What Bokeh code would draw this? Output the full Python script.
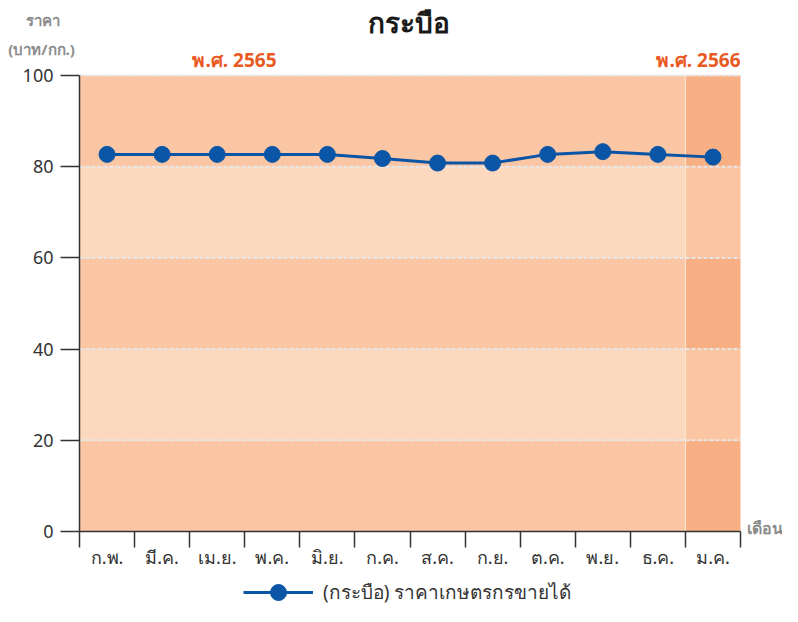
from bokeh.plotting import figure
from bokeh.models import Range1d, FixedTicker, Label, Legend, LegendItem
from bokeh.embed import file_html
from bokeh.resources import INLINE

# ---- data ----
months = ["ก.พ.", "มี.ค.", "เม.ย.", "พ.ค.", "มิ.ย.", "ก.ค.", "ส.ค.", "ก.ย.", "ต.ค.", "พ.ย.", "ธ.ค.", "ม.ค."]
prices = [82.7, 82.7, 82.7, 82.7, 82.7, 81.8, 80.8, 80.8, 82.7, 83.3, 82.7, 82.1]
y_ticks = [0, 20, 40, 60, 80, 100]
year_labels = ["พ.ศ. 2565", "พ.ศ. 2566"]
year_month_counts = [11, 1]
series_name = "(กระบือ) ราคาเกษตรกรขายได้"
chart_title = "กระบือ"
y_title = ["ราคา", "(บาท/กก.)"]
x_title = "เดือน"

FONT = "Noto Sans"
W, H = 782, 606
# plot-area placement on the canvas (pixels)
FL, FR, FT, FB = 79, 740, 75, 531
n = len(months)
ux = (FR - FL) / n
uy = (FB - FT) / (y_ticks[-1] - y_ticks[0])
xs = [i + 0.5 for i in range(n)]

p = figure(width=W, height=H, output_backend="svg", toolbar_location=None, title=None,
           x_range=Range1d(-FL / ux, n + (W - FR) / ux),
           y_range=Range1d(y_ticks[0] - (H - FB) / uy, y_ticks[-1] + FT / uy),
           min_border=0)
p.outline_line_color = None
p.xgrid.visible = False
p.ygrid.visible = False
p.background_fill_color = "white"
p.border_fill_color = "white"

# background bands
band_cols = [("#FAC6A3", "#FCD9BE"), ("#F9AF84", "#FAC5A0")]
start = 0
for yi, cnt in enumerate(year_month_counts):
    dark, light = band_cols[yi]
    for j in range(len(y_ticks) - 1):
        p.quad(left=start, right=start + cnt, bottom=y_ticks[j], top=y_ticks[j + 1],
               fill_color=dark if j % 2 == 0 else light, line_color=None)
    start += cnt
# separator between years
p.segment(x0=[year_month_counts[0]], x1=[year_month_counts[0]], y0=[y_ticks[0]], y1=[y_ticks[-1]],
          line_color="#FDE3D2", line_width=1.2)
# dashed grid
gy = y_ticks[1:]
p.segment(x0=[0] * len(gy), x1=[n] * len(gy), y0=gy, y1=gy,
          line_color="#E6E6E6", line_dash="4 2", line_width=2)

line_r = p.line(xs, prices, line_color="#0A55A6", line_width=3)
pts_r = p.scatter(xs, prices, size=16, fill_color="#0A55A6", line_color="#0A55A6")

# axes
xa = p.xaxis[0]
xa.fixed_location = y_ticks[0]
xa.bounds = (0, n)
xa.ticker = FixedTicker(ticks=xs, minor_ticks=list(range(n + 1)))
xa.major_label_overrides = {x: m for x, m in zip(xs, months)}
xa.major_tick_out = 0
xa.major_tick_in = 0
xa.minor_tick_out = 16
xa.minor_tick_in = 0
xa.minor_tick_line_color = "#333333"
xa.minor_tick_line_width = 1.5
xa.axis_line_color = "#333333"
xa.axis_line_width = 1.5
xa.major_label_standoff = -3
xa.major_label_text_font = FONT
xa.major_label_text_font_size = "18px"
xa.major_label_text_color = "#333333"

ya = p.yaxis[0]
ya.fixed_location = 0
ya.bounds = (y_ticks[0], y_ticks[-1])
ya.ticker = FixedTicker(ticks=y_ticks, minor_ticks=[])
ya.major_tick_out = 19
ya.major_tick_in = 0
ya.major_tick_line_color = "#333333"
ya.major_tick_line_width = 1.5
ya.axis_line_color = "#333333"
ya.axis_line_width = 1.5
ya.major_label_standoff = 7
ya.major_label_text_font = FONT
ya.major_label_text_font_size = "18px"
ya.major_label_text_color = "#333333"

def lab(text, px, py, size, color, align="center", bold=True):
    p.add_layout(Label(x=px, y=H - py, x_units="screen", y_units="screen", text=text,
                       text_align=align, text_baseline="middle", text_font=FONT,
                       text_font_size=size, text_color=color,
                       text_font_style="bold" if bold else "normal"))

lab(chart_title, 408, 21, "28px", "#1A1A1A")
lab(y_title[0], 42, 19, "15px", "#8C8C8C")
lab(y_title[1], 41, 48, "15px", "#8C8C8C")
lab(year_labels[0], 234, 59, "19px", "#E85A22")
lab(year_labels[1], 740, 59, "19px", "#E85A22", align="right")
lab(x_title, 746, 527, "16px", "#8C8C8C", align="left")

legend = Legend(items=[LegendItem(label=series_name, renderers=[line_r, pts_r])],
                location=(243, -6), orientation="horizontal",
                glyph_width=70, glyph_height=40, label_standoff=10,
                padding=0, margin=0, border_line_color=None, background_fill_alpha=0,
                label_text_font=FONT, label_text_font_size="19px", label_text_color="#333333")
p.add_layout(legend, "center")

open("out.html", "w").write(file_html(p, INLINE))
